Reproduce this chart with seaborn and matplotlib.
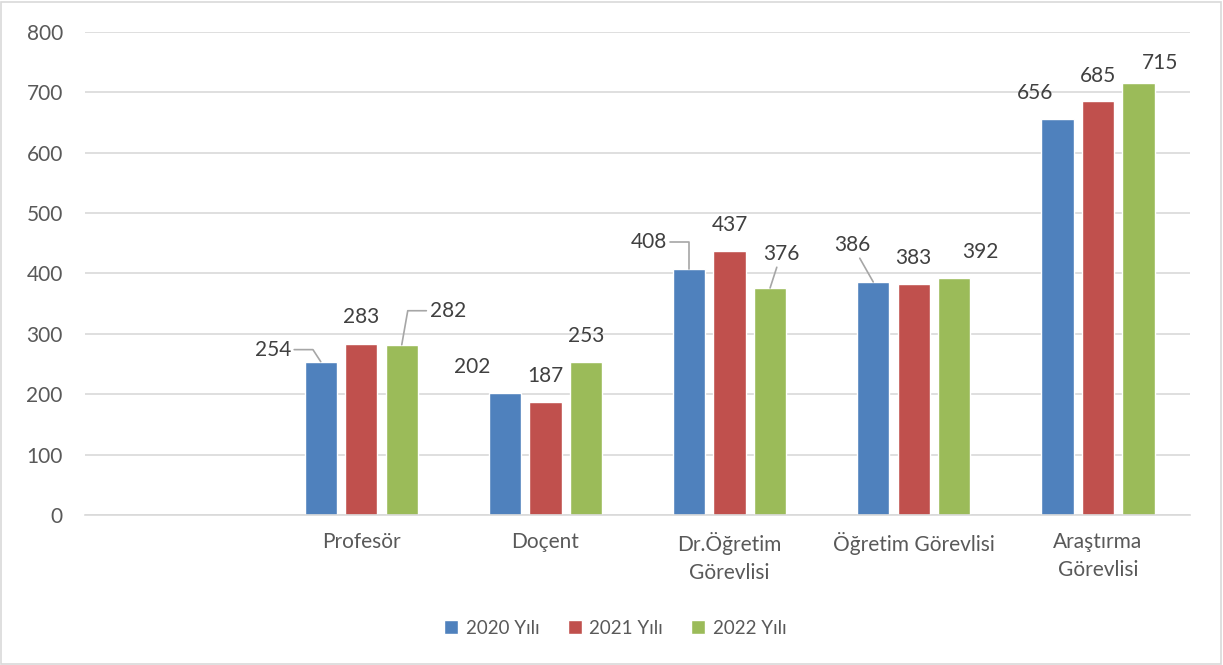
import matplotlib
matplotlib.use('Agg')
import matplotlib.pyplot as plt
import seaborn as sns
import pandas as pd
from matplotlib.patches import Rectangle

# veriler
KATEGORILER = ['_bos', 'Profesör', 'Doçent', 'Dr.Öğretim Görevlisi',
               'Öğretim Görevlisi', 'Araştırma Görevlisi']
ETIKETLER = ['', 'Profesör', 'Doçent', 'Dr.Öğretim\nGörevlisi',
             'Öğretim Görevlisi', 'Araştırma\nGörevlisi']
YILLAR = ['2020 Yılı', '2021 Yılı', '2022 Yılı']
Y2020 = [254, 202, 408, 386, 656]
Y2021 = [283, 187, 437, 383, 685]
Y2022 = [282, 253, 376, 392, 715]
RENKLER = ['#4f81bd', '#c0504d', '#9bbb59']

# etiket kaydirmalari (piksel, cubuk tepesine gore) ve baglanti cizgileri
OFFSET = {
    (1, 0): (-48, 12, 'angle,angleA=0,angleB=123,rad=0'),
    (1, 1): (0, 27, None),
    (1, 2): (46, 34, 'angle,angleA=0,angleB=80,rad=0'),
    (2, 0): (-33, 26, None),
    (2, 1): (0, 26, None),
    (2, 2): (0, 26, None),
    (3, 0): (-40, 27, 'angle,angleA=0,angleB=90,rad=0'),
    (3, 1): (0, 26, None),
    (3, 2): (11, 34, 'arc3,rad=0'),
    (4, 0): (-21, 37, 'arc3,rad=0'),
    (4, 1): (0, 26, None),
    (4, 2): (26, 26, None),
    (5, 0): (-22, 26, None),
    (5, 1): (0, 25, None),
    (5, 2): (22, 20, None),
}

rows = []
for yil, vals in zip(YILLAR, [Y2020, Y2021, Y2022]):
    for kat, v in zip(KATEGORILER[1:], vals):
        rows.append({'Kategori': kat, 'Yil': yil, 'Deger': v})
df = pd.DataFrame(rows)

sns.set_style('white')
plt.rcParams['font.family'] = ['Lato', 'DejaVu Sans']

fig = plt.figure(figsize=(12.23, 6.65), dpi=100)
ax = fig.add_axes([0.0695, 0.2256, 0.9035, 0.7263])

sns.barplot(data=df, x='Kategori', y='Deger', hue='Yil', order=KATEGORILER,
            hue_order=YILLAR, palette=RENKLER, width=0.66, gap=0.2,
            saturation=1, ax=ax, legend=True)

ax.set_ylim(0, 800)
ax.set_xlim(-0.5, 5.5)
ax.set_yticks(range(0, 801, 100))
ax.set_xticks(range(len(KATEGORILER)))
ax.set_xticklabels(ETIKETLER, linespacing=1.5)
ax.yaxis.grid(True, color='#d9d9d9', linewidth=1.2)
ax.set_axisbelow(True)
for s in ['top', 'right', 'left']:
    ax.spines[s].set_visible(False)
ax.spines['bottom'].set_color('#d9d9d9')
ax.spines['bottom'].set_linewidth(1.2)
ax.tick_params(axis='y', length=0, pad=16, labelsize=15, labelcolor='#595959')
ax.tick_params(axis='x', length=0, pad=12, labelsize=15, labelcolor='#595959')
ax.set_xlabel('')
ax.set_ylabel('')

px = 72 / fig.dpi
for h, cont in enumerate(ax.containers):
    for bar in cont:
        x = bar.get_x() + bar.get_width() / 2
        y = bar.get_height()
        k = int(round(x))
        dx, dy, conn = OFFSET[(k, h)]
        kw = {}
        if conn:
            kw['arrowprops'] = dict(arrowstyle='-', color='#a6a6a6', lw=1.2,
                                    connectionstyle=conn, shrinkA=0, shrinkB=0)
        ax.annotate(f'{y:.0f}', xy=(x, y), xytext=(dx * px, dy * px),
                    textcoords='offset points', ha='center', va='center',
                    fontsize=15, color='#404040', **kw)

leg = ax.legend(loc='center', bbox_to_anchor=(0.503, 0.0556),
                bbox_transform=fig.transFigure, ncol=3, frameon=False,
                fontsize=13.5, handlelength=0.75, handleheight=0.75,
                handletextpad=0.4, columnspacing=1.5)
for t in leg.get_texts():
    t.set_color('#595959')

fig.patches.append(Rectangle((0.001, 0.0015), 0.997, 0.996,
                             transform=fig.transFigure, fill=False,
                             edgecolor='#d9d9d9', linewidth=1.2))

fig.savefig('out.png', dpi=100)
